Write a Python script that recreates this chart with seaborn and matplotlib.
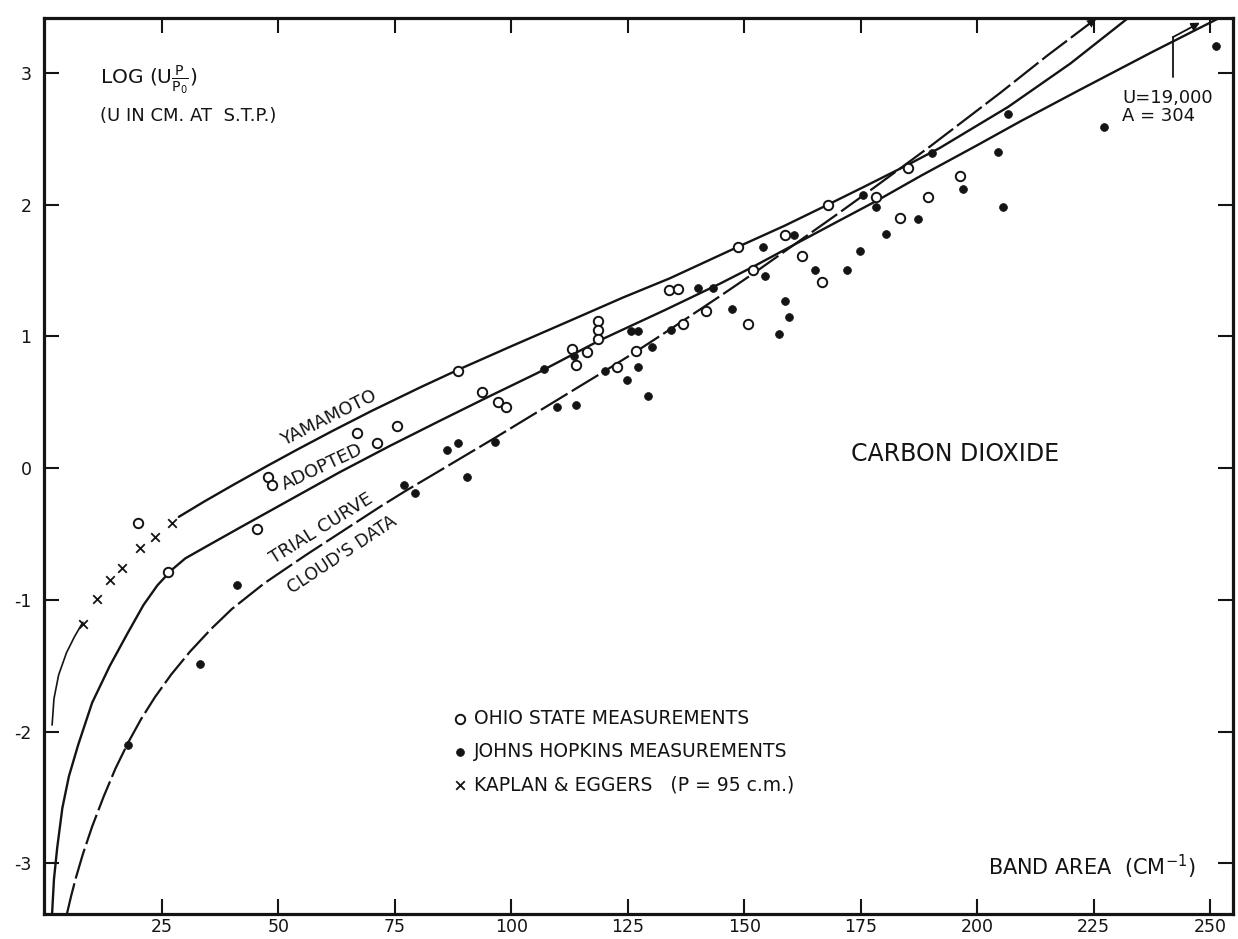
import matplotlib
matplotlib.use("Agg")
import matplotlib.pyplot as plt
import seaborn as sns

# ---------------------------------------------------------------- data
# Band area (cm^-1) vs log(U p/p0) for carbon dioxide

ohio_x = [19.8, 26.3, 45.4, 47.8, 48.7, 66.9, 71.1, 75.4, 88.6, 93.7, 97.1, 98.8,
          113.0, 113.9, 116.2, 118.6, 118.6, 118.6, 122.7, 126.7, 133.8, 135.8,
          136.8, 141.7, 148.7, 150.8, 151.9, 158.7, 162.4, 166.7, 168.0, 178.3,
          183.5, 185.2, 189.4, 196.3]
ohio_y = [-0.42, -0.79, -0.46, -0.07, -0.13, 0.27, 0.19, 0.32, 0.74, 0.58, 0.50, 0.46,
          0.90, 0.78, 0.88, 1.12, 1.05, 0.98, 0.77, 0.89, 1.35, 1.36,
          1.09, 1.19, 1.68, 1.09, 1.50, 1.77, 1.61, 1.41, 2.00, 2.06,
          1.90, 2.28, 2.06, 2.22]

hopkins_x = [17.7, 33.1, 41.1, 76.9, 79.4, 86.1, 88.6, 90.4, 96.5, 107.1, 109.8,
             113.4, 113.9, 120.1, 124.8, 125.6, 127.2, 127.2, 129.3, 130.2, 134.2,
             140.0, 143.3, 147.4, 154.0, 154.4, 157.5, 158.7, 159.6, 160.7, 165.2,
             172.0, 174.8, 175.5, 178.3, 180.4, 187.3, 190.4, 196.9, 204.5, 205.5,
             206.6, 227.2, 251.3]
hopkins_y = [-2.10, -1.49, -0.89, -0.13, -0.19, 0.14, 0.19, -0.07, 0.20, 0.75, 0.46,
             0.85, 0.48, 0.74, 0.67, 1.04, 1.04, 0.77, 0.55, 0.92, 1.05,
             1.37, 1.37, 1.21, 1.68, 1.46, 1.02, 1.27, 1.15, 1.77, 1.50,
             1.50, 1.65, 2.07, 1.98, 1.78, 1.89, 2.39, 2.12, 2.40, 1.98,
             2.69, 2.59, 3.20]

kaplan_x = [8.0, 11.0, 13.8, 16.4, 20.3, 23.5, 27.1]
kaplan_y = [-1.18, -0.99, -0.85, -0.76, -0.61, -0.52, -0.42]

# drawn curves
kaplan_curve_x = [1.4, 1.8, 2.8, 4.5, 6.2, 8.0]
kaplan_curve_y = [-1.95, -1.75, -1.57, -1.40, -1.28, -1.17]

yamamoto_x = [28.6, 34.0, 40.3, 47.5, 54.0, 61.7, 70.0, 80.4, 88.8, 100.0, 113.2,
              124.0, 134.0, 148.7, 158.7, 168.0, 176.0, 185.0, 192.0, 206.6, 220.0, 232.2]
yamamoto_y = [-0.37, -0.255, -0.127, 0.015, 0.14, 0.284, 0.434, 0.612, 0.75, 0.925, 1.128,
              1.295, 1.44, 1.68, 1.84, 2.00, 2.14, 2.30, 2.43, 2.74, 3.07, 3.41]

adopted_x = [1.4, 1.8, 2.5, 3.6, 5.0, 7.0, 10.0, 13.8, 17.5, 21.0, 24.0, 27.0, 30.0,
             35.0, 41.8, 52.0, 63.2, 74.0, 84.7, 95.0, 105.5, 119.0, 133.0, 144.8,
             152.0, 162.0, 170.5, 178.5, 188.0, 200.0, 209.2, 222.0, 237.7, 255.0]
adopted_y = [-3.38, -3.12, -2.88, -2.58, -2.34, -2.10, -1.78, -1.50, -1.26, -1.04,
             -0.89, -0.775, -0.685, -0.585, -0.45, -0.25, -0.03, 0.17, 0.36, 0.54, 0.72,
             0.97, 1.20, 1.40, 1.53, 1.72, 1.88, 2.03, 2.22, 2.45, 2.63, 2.87, 3.16, 3.47]

trial_x = [4.6, 5.5, 6.5, 8.0, 10.0, 12.5, 15.0, 17.7, 20.5, 23.5, 27.0, 31.0, 35.5,
           40.0, 47.0, 56.0, 65.0, 72.0, 77.2, 84.7, 96.5, 109.0, 119.7, 127.0, 134.0,
           144.8, 152.0, 162.0, 170.0, 178.0, 190.0, 205.0, 215.0, 225.5]
trial_y = [-3.38, -3.245, -3.11, -2.93, -2.72, -2.49, -2.28, -2.085, -1.905, -1.737,
           -1.565, -1.393, -1.222, -1.069, -0.873, -0.657, -0.45, -0.289, -0.175,
           -0.018, 0.23, 0.499, 0.729, 0.89, 1.051, 1.305, 1.478, 1.728, 1.928, 2.132,
           2.444, 2.849, 3.129, 3.41]

x_ticks = [25, 50, 75, 100, 125, 150, 175, 200, 225, 250]
x_tick_labels = ["25", "50", "75", "100", "125", "150", "175", "200", "225", "250"]
y_ticks = [-3, -2, -1, 0, 1, 2, 3]
y_tick_labels = ["-3", "-2", "-1", "0", "1", "2", "3"]

legend_labels = ["OHIO STATE MEASUREMENTS",
                 "JOHNS HOPKINS MEASUREMENTS",
                 "KAPLAN & EGGERS   (P = 95 c.m.)"]

# ---------------------------------------------------------------- style
sns.set_theme(style="ticks")
plt.rcParams["font.family"] = ["DejaVu Sans"]
plt.rcParams["mathtext.default"] = "regular"
plt.rcParams["axes.unicode_minus"] = False

INK = "#141414"

fig = plt.figure(figsize=(12.38, 9.39), dpi=100, facecolor="white")
ax = fig.add_axes([0.0355, 0.0266, 0.9604, 0.954])
ax.set_facecolor("white")

# ---------------------------------------------------------------- curves
line_kw = dict(ax=ax, color=INK, sort=False, estimator=None, legend=False)
sns.lineplot(x=kaplan_curve_x, y=kaplan_curve_y, lw=1.2, **line_kw)
sns.lineplot(x=yamamoto_x, y=yamamoto_y, lw=1.7, **line_kw)
sns.lineplot(x=adopted_x, y=adopted_y, lw=1.7, **line_kw)
sns.lineplot(x=trial_x, y=trial_y, lw=1.6, dashes=False, linestyle=(0, (14, 2.2)),
             **line_kw)

# arrowhead where the trial curve meets the frame
ax.annotate("", xy=(trial_x[-1], trial_y[-1]), xytext=(trial_x[-2], trial_y[-2]),
            annotation_clip=False,
            arrowprops=dict(arrowstyle="-|>", color=INK, lw=0.0,
                            mutation_scale=16, shrinkA=0, shrinkB=0))

# ---------------------------------------------------------------- points
sns.scatterplot(x=ohio_x, y=ohio_y, ax=ax, marker="o", s=46, facecolor="white",
                edgecolor=INK, linewidth=1.4, zorder=5, label=legend_labels[0])
sns.scatterplot(x=hopkins_x, y=hopkins_y, ax=ax, marker="o", s=32, color=INK,
                edgecolor=INK, linewidth=0.5, zorder=5, label=legend_labels[1])
sns.scatterplot(x=kaplan_x, y=kaplan_y, ax=ax, marker="x", s=38, color=INK,
                linewidth=1.3, zorder=5, label=legend_labels[2])

# ---------------------------------------------------------------- axes
ax.set_xlim(-0.35, 254.9)
ax.set_ylim(-3.384, 3.414)
ax.set_xticks(x_ticks)
ax.set_xticklabels(x_tick_labels)
ax.set_yticks(y_ticks)
ax.set_yticklabels(y_tick_labels)
ax.set_xlabel("")
ax.set_ylabel("")
ax.tick_params(axis="both", direction="in", length=11, width=1.5, colors=INK,
               top=True, right=True, labeltop=False, labelright=False,
               labelsize=12.5)
ax.tick_params(axis="x", pad=3)
ax.tick_params(axis="y", pad=9)
for side in ("left", "right", "top", "bottom"):
    ax.spines[side].set_visible(True)
    ax.spines[side].set_linewidth(2.3)
    ax.spines[side].set_color(INK)

# ---------------------------------------------------------------- text
ax.text(11.7, 2.95, r"LOG (U$\frac{P}{P_0}$)", fontsize=14.5, color=INK,
        ha="left", va="center")
ax.text(11.7, 2.67, "(U IN CM. AT  S.T.P.)", fontsize=13, color=INK,
        ha="left", va="center")

curve_labels = [("YAMAMOTO", 60.7, 0.38, 26.5, 13),
                ("ADOPTED", 59.5, 0.01, 25, 13),
                ("TRIAL CURVE", 59.3, -0.46, 32, 13),
                ("CLOUD'S DATA", 63.6, -0.66, 33.5, 12.5)]
for txt, tx, ty, rot, fs in curve_labels:
    ax.text(tx, ty, txt, rotation=rot, rotation_mode="anchor", fontsize=fs,
            color=INK, ha="center", va="center")

ax.text(195.2, 0.11, "CARBON DIOXIDE", fontsize=17, color=INK,
        ha="center", va="center")
ax.text(202.3, -3.03, "BAND AREA  (CM$^{-1}$)", fontsize=15, color=INK,
        ha="left", va="center")

# pointer toward the off-scale end of the adopted curve
ax.plot([242.0, 242.0], [2.97, 3.27], color=INK, lw=1.3)
ax.annotate("", xy=(247.8, 3.38), xytext=(242.0, 3.27),
            arrowprops=dict(arrowstyle="-|>", color=INK, lw=1.3,
                            mutation_scale=12, shrinkA=0, shrinkB=0))
ax.text(231.1, 2.88, "U=19,000\nA = 304", fontsize=13, color=INK,
        ha="left", va="top", linespacing=1.05)

# ---------------------------------------------------------------- legend
leg = ax.legend(loc="upper left", bbox_to_anchor=(0.3436, 0.2288),
                frameon=False, fontsize=13.5, handletextpad=0.35,
                labelspacing=0.75, handlelength=0.8, borderpad=0,
                borderaxespad=0)
for t in leg.get_texts():
    t.set_color(INK)

fig.savefig("out.png", dpi=100, facecolor="white")
